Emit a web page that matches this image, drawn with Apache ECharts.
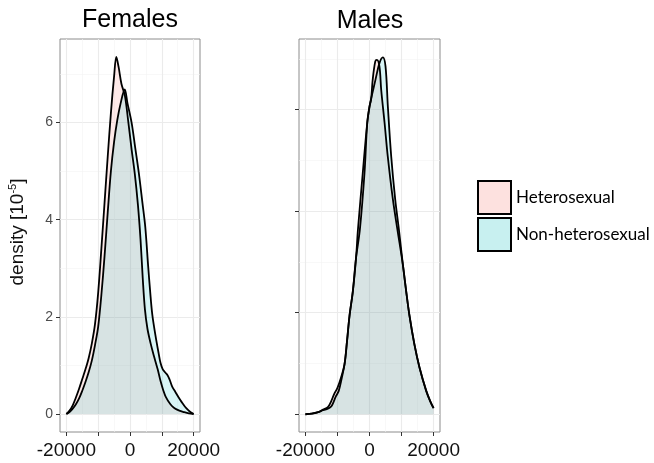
<!DOCTYPE html>
<html>
<head>
<meta charset="utf-8">
<script src="https://cdn.jsdelivr.net/npm/echarts@6/dist/echarts.min.js"></script>
<style>
  html, body { margin: 0; padding: 0; background: #fff; }
  #main { width: 654px; height: 463px; }
</style>
</head>
<body>
<div id="main"></div>
<script>
// density curves (x = score, y = density in 1e-5)
var femHetX = [-20000,-19000,-18000,-17000,-16000,-15000,-14000,-13000,-12000,-11000,-10000,-9000,-8000,-7000,-6000,-5000,-4300,-3600,-2700,-1600,-600,500,1500,2500,3300,4000,4700,5500,6500,7500,8700,9600,10500,11200,12700,14000,15500,17000,18500,20000];
var femHetY = [0,0.07,0.18,0.34,0.52,0.72,0.92,1.15,1.45,1.85,2.5,3.4,4.35,5.3,6.2,6.95,7.35,7.15,6.8,6.55,6.05,5.45,4.95,4.3,3.6,2.8,2.15,1.75,1.45,1.2,0.92,0.68,0.48,0.36,0.2,0.12,0.07,0.04,0.015,0];

var femNonX = [-20000,-19000,-18000,-17000,-16000,-15000,-14000,-13000,-12000,-11000,-10000,-9000,-8000,-7000,-6000,-5000,-4000,-3000,-1660,-800,500,1600,2800,3900,4800,5700,6300,7000,8000,9000,9600,10300,11000,11800,12500,13300,14300,15300,16300,17300,18300,19200,20000];
var femNonY = [0,0.04,0.11,0.2,0.32,0.48,0.66,0.86,1.1,1.42,1.8,2.45,3.25,4.15,5.0,5.6,6.05,6.38,6.68,6.4,6.0,5.5,4.95,4.35,3.85,3.05,2.55,2.05,1.62,1.25,1.05,0.92,0.86,0.8,0.7,0.56,0.45,0.34,0.24,0.15,0.08,0.03,0];

var malHetX = [-20000,-18000,-16000,-14500,-13000,-12000,-11000,-10000,-9000,-7800,-7000,-6250,-5200,-4200,-3600,-2100,-700,0,500,1000,1800,2300,3100,3650,4700,5700,7300,8700,10400,11450,12500,14000,15600,17700,19000,20000];
var malHetY = [0,0.01,0.04,0.09,0.14,0.25,0.4,0.52,0.7,0.98,1.45,1.93,2.42,3.08,3.64,4.75,5.74,6.06,6.2,6.59,6.95,6.98,6.85,6.39,5.74,5.08,4.23,3.64,2.95,2.42,1.93,1.38,0.92,0.46,0.25,0.12];

var malNonX = [-20000,-18000,-16000,-14500,-13000,-12000,-11500,-10500,-9600,-8700,-7800,-7000,-6250,-5200,-4200,-3000,-1560,-700,0,1000,1870,3125,4170,5000,5730,6770,8020,9170,10400,11450,12500,14000,15600,17700,19000,20000];
var malNonY = [0,0.01,0.04,0.08,0.11,0.15,0.2,0.35,0.46,0.7,0.98,1.45,1.93,2.42,3.08,3.64,4.75,5.74,6.06,6.35,6.59,6.92,7.03,6.85,6.06,5.08,4.23,3.64,2.95,2.42,1.93,1.38,0.92,0.46,0.25,0.12];

var panels = ['Females', 'Males'];
var groups = ['Heterosexual', 'Non-heterosexual'];
var xMajor = [-20000, -10000, 0, 10000, 20000];
var xMinor = [-15000, -5000, 5000, 15000];
var xLabels = [-20000, 0, 20000];
var yMajor = [0, 2, 4, 6];
var yMinor = [1, 3, 5, 7];

function pairs(xs, ys) {
  return xs.map(function (x, i) { return [x, ys[i]]; });
}

var fillHet = 'rgba(248,118,109,0.22)';
var fillNon = 'rgba(0,191,196,0.22)';

var myChart = echarts.init(document.getElementById('main'));

function xAxes(g) {
  return [{
    type: 'value', gridIndex: g, min: -22000, max: 22000,
    axisLine: { show: false, onZero: false },
    axisTick: { show: true, length: 4, lineStyle: { color: '#333' }, customValues: xMajor },
    axisLabel: { customValues: xLabels, fontSize: 19, color: '#111', margin: 9,
      fontFamily: 'Liberation Sans', formatter: function (v) { return String(v); } },
    splitLine: { show: true, lineStyle: { color: '#ebebeb', width: 1.1 } }
  }, {
    type: 'value', gridIndex: g, min: -22000, max: 22000,
    axisLine: { show: false, onZero: false },
    axisTick: { show: false, customValues: xMinor },
    axisLabel: { show: false },
    splitLine: { show: true, lineStyle: { color: '#f3f3f3', width: 0.6 } }
  }];
}

function yAxes(g, lo, hi, showLabels) {
  return [{
    type: 'value', gridIndex: g, min: lo, max: hi,
    axisLine: { show: false, onZero: false },
    axisTick: { show: true, length: 4, lineStyle: { color: '#333' }, customValues: yMajor },
    axisLabel: { show: showLabels, customValues: yMajor, fontSize: 14, color: '#4d4d4d',
      margin: 7, fontFamily: 'Liberation Sans' },
    splitLine: { show: true, lineStyle: { color: '#ebebeb', width: 1.1 } }
  }, {
    type: 'value', gridIndex: g, min: lo, max: hi,
    axisLine: { show: false, onZero: false },
    axisTick: { show: false, customValues: yMinor },
    axisLabel: { show: false },
    splitLine: { show: true, lineStyle: { color: '#f3f3f3', width: 0.6 } }
  }];
}

function densitySeries(name, g, xs, ys, fill) {
  return {
    name: name, type: 'line', xAxisIndex: g * 2, yAxisIndex: g * 2,
    data: pairs(xs, ys), smooth: 0.35, showSymbol: false, silent: true,
    lineStyle: { color: '#000', width: 1.8 },
    itemStyle: { color: fill },
    areaStyle: { color: fill }
  };
}

var option = {
  animation: false,
  grid: [
    { left: 60, top: 39, width: 140, height: 393, show: true, borderColor: '#8c8c8c', borderWidth: 1, backgroundColor: '#fff' },
    { left: 299, top: 39, width: 141, height: 393, show: true, borderColor: '#8c8c8c', borderWidth: 1, backgroundColor: '#fff' }
  ],
  xAxis: xAxes(0).concat(xAxes(1)),
  yAxis: yAxes(0, -0.37, 7.72, true).concat(yAxes(1, -0.35, 7.39, false)),
  legend: {
    orient: 'vertical', left: 477, top: 180, padding: 0, itemWidth: 33, itemHeight: 33, itemGap: 2,
    textStyle: { fontSize: 17, fontFamily: 'Lato', color: '#000' },
    data: [
      { name: groups[0], icon: 'rect', itemStyle: { color: '#fde1df', borderColor: '#000', borderWidth: 2 } },
      { name: groups[1], icon: 'rect', itemStyle: { color: '#c8f0f0', borderColor: '#000', borderWidth: 2 } }
    ]
  },
  graphic: [
    { type: 'text', x: 130, y: 20, style: { text: panels[0], fontSize: 25, fontFamily: 'Liberation Sans', fill: '#000', align: 'center', verticalAlign: 'middle' } },
    { type: 'text', x: 370, y: 21, style: { text: panels[1], fontSize: 25, fontFamily: 'Liberation Sans', fill: '#000', align: 'center', verticalAlign: 'middle' } },
    { type: 'text', x: 18, y: 232, rotation: Math.PI / 2,
      style: { text: '{a|density [10}{b|-5}{a|]}', align: 'center', verticalAlign: 'middle',
        rich: { a: { fontSize: 19, fontFamily: 'Liberation Sans', fill: '#111', lineHeight: 22 },
                b: { fontSize: 11, fontFamily: 'Liberation Sans', fill: '#111', verticalAlign: 'top', lineHeight: 22 } } } }
  ],
  series: [
    densitySeries(groups[0], 0, femHetX, femHetY, fillHet),
    densitySeries(groups[1], 0, femNonX, femNonY, fillNon),
    densitySeries(groups[0], 1, malHetX, malHetY, fillHet),
    densitySeries(groups[1], 1, malNonX, malNonY, fillNon)
  ]
};

myChart.setOption(option);
</script>
</body>
</html>
